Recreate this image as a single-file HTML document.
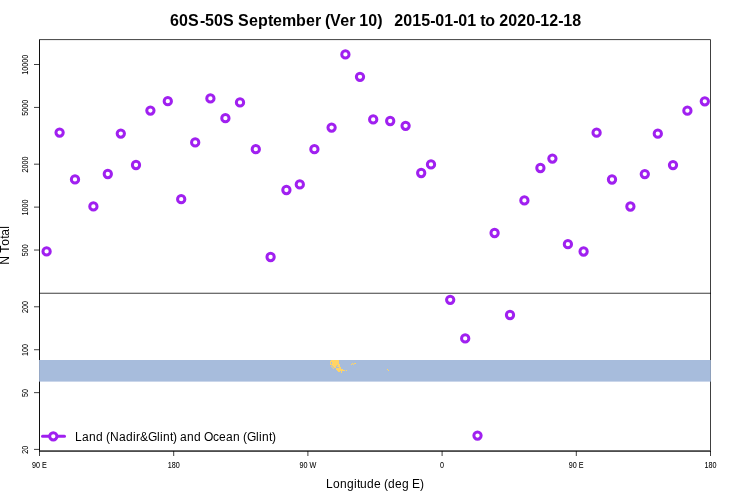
<!DOCTYPE html>
<html><head><meta charset="utf-8"><style>
html,body{margin:0;padding:0;background:#fff;}
body{width:750px;height:500px;overflow:hidden;}
svg{display:block;}
text{font-family:"Liberation Sans",Arial,sans-serif;}
</style></head><body>
<svg width="750" height="500" viewBox="0 0 750 500">
<rect width="750" height="500" fill="#fff"/>
<rect x="39" y="292" width="672" height="1" fill="#000" fill-opacity="0.196"/>
<rect x="39" y="293" width="672" height="1" fill="#000" fill-opacity="0.569"/>
<g fill="none" stroke="#000" stroke-width="0.75">
<polyline points="39.5,450.5 39.5,39.6 710.5,39.6 710.5,450.5"/>
<line x1="39.5" y1="39.6" x2="39.5" y2="451"/>
<line x1="34" y1="64.50" x2="39.5" y2="64.50"/>
<line x1="34" y1="107.43" x2="39.5" y2="107.43"/>
<line x1="34" y1="164.18" x2="39.5" y2="164.18"/>
<line x1="34" y1="207.11" x2="39.5" y2="207.11"/>
<line x1="34" y1="250.04" x2="39.5" y2="250.04"/>
<line x1="34" y1="306.79" x2="39.5" y2="306.79"/>
<line x1="34" y1="349.72" x2="39.5" y2="349.72"/>
<line x1="34" y1="392.65" x2="39.5" y2="392.65"/>
<line x1="34" y1="449.40" x2="39.5" y2="449.40"/>
<line x1="39.5" y1="451" x2="39.5" y2="456"/>
<line x1="173.7" y1="451" x2="173.7" y2="456"/>
<line x1="307.9" y1="451" x2="307.9" y2="456"/>
<line x1="442.1" y1="451" x2="442.1" y2="456"/>
<line x1="576.3" y1="451" x2="576.3" y2="456"/>
<line x1="710.5" y1="451" x2="710.5" y2="456"/>
</g>
<rect x="39" y="450" width="672" height="1" fill="#000" fill-opacity="0.584"/>
<rect x="39" y="451" width="672" height="1" fill="#000" fill-opacity="0.698"/>
<rect x="39" y="360" width="672" height="21.6" fill="#A7BCDC"/>
<rect x="39" y="360" width="1" height="21.6" fill="#000" fill-opacity="0.1"/>
<rect x="710" y="360" width="1" height="21.6" fill="#000" fill-opacity="0.15"/>
<g fill="#FFD466">
<rect x="331" y="360" width="8" height="1"/>
<rect x="330" y="361" width="9" height="1"/>
<rect x="330" y="362" width="1" height="1"/>
<rect x="332" y="362" width="7" height="1"/>
<rect x="330" y="363" width="1" height="1"/>
<rect x="332" y="363" width="7" height="1"/>
<rect x="330" y="364" width="10" height="1"/>
<rect x="332" y="365" width="5" height="1"/>
<rect x="338" y="365" width="2" height="1"/>
<rect x="331" y="366" width="1" height="1"/>
<rect x="333" y="366" width="3" height="1"/>
<rect x="337" y="366" width="3" height="1"/>
<rect x="332" y="367" width="1" height="1"/>
<rect x="334" y="367" width="2" height="1"/>
<rect x="339" y="367" width="2" height="1"/>
<rect x="333" y="368" width="1" height="1"/>
<rect x="336" y="368" width="5" height="1"/>
<rect x="336" y="369" width="7" height="1"/>
<rect x="337" y="370" width="8" height="1"/>
<rect x="346" y="370" width="1" height="1"/>
<rect x="338" y="371" width="2" height="1"/>
<rect x="341" y="371" width="1" height="1"/>
<rect x="341" y="372" width="1" height="1"/>
<rect x="351" y="364" width="1" height="1"/>
<rect x="352" y="363" width="1" height="1"/>
<rect x="353" y="364" width="1" height="1"/>
<rect x="354" y="363" width="2" height="1"/>
<rect x="387" y="369" width="1" height="1"/>
<rect x="388" y="370" width="1" height="1"/>
</g>
<g fill="none" stroke="#A020F0" stroke-width="3.0">
<circle cx="46.6" cy="251.4" r="3.65"/>
<circle cx="59.6" cy="132.6" r="3.65"/>
<circle cx="75.0" cy="179.4" r="3.65"/>
<circle cx="93.4" cy="206.4" r="3.65"/>
<circle cx="107.8" cy="174.0" r="3.65"/>
<circle cx="120.8" cy="133.6" r="3.65"/>
<circle cx="136.0" cy="165.0" r="3.65"/>
<circle cx="150.4" cy="110.6" r="3.65"/>
<circle cx="167.8" cy="101.2" r="3.65"/>
<circle cx="181.2" cy="199.2" r="3.65"/>
<circle cx="195.2" cy="142.4" r="3.65"/>
<circle cx="210.4" cy="98.4" r="3.65"/>
<circle cx="225.4" cy="118.2" r="3.65"/>
<circle cx="240.0" cy="102.4" r="3.65"/>
<circle cx="255.8" cy="149.2" r="3.65"/>
<circle cx="270.6" cy="257.0" r="3.65"/>
<circle cx="286.4" cy="190.0" r="3.65"/>
<circle cx="299.8" cy="184.4" r="3.65"/>
<circle cx="314.4" cy="149.2" r="3.65"/>
<circle cx="331.6" cy="127.6" r="3.65"/>
<circle cx="345.4" cy="54.4" r="3.65"/>
<circle cx="360.0" cy="76.8" r="3.65"/>
<circle cx="373.2" cy="119.4" r="3.65"/>
<circle cx="390.2" cy="121.0" r="3.65"/>
<circle cx="405.6" cy="125.8" r="3.65"/>
<circle cx="421.2" cy="173.0" r="3.65"/>
<circle cx="431.0" cy="164.4" r="3.65"/>
<circle cx="450.2" cy="299.8" r="3.65"/>
<circle cx="465.2" cy="338.4" r="3.65"/>
<circle cx="477.5" cy="435.6" r="3.65"/>
<circle cx="494.6" cy="233.0" r="3.65"/>
<circle cx="510.0" cy="315.0" r="3.65"/>
<circle cx="524.4" cy="200.4" r="3.65"/>
<circle cx="540.4" cy="168.0" r="3.65"/>
<circle cx="552.4" cy="158.6" r="3.65"/>
<circle cx="567.9" cy="244.2" r="3.65"/>
<circle cx="583.6" cy="251.5" r="3.65"/>
<circle cx="596.6" cy="132.7" r="3.65"/>
<circle cx="612.0" cy="179.5" r="3.65"/>
<circle cx="630.4" cy="206.5" r="3.65"/>
<circle cx="644.8" cy="174.1" r="3.65"/>
<circle cx="657.8" cy="133.7" r="3.65"/>
<circle cx="673.0" cy="165.1" r="3.65"/>
<circle cx="687.4" cy="110.7" r="3.65"/>
<circle cx="704.8" cy="101.3" r="3.65"/>
<line x1="42.5" y1="436.3" x2="64.5" y2="436.3" stroke-width="3" stroke-linecap="round"/>
<circle cx="53.3" cy="436.3" r="3.65" fill="#fff"/>
</g>
<g opacity="0.999" fill="#000">
<text x="170.1 179.1 188.1 200 205 214 223 234 238 249 258 268 273 282 296 306 315 321 325 330 340.2 349.2 355.2 359.2 368.2 377.2 382.2 386.2 390.2 394.2 403.2 412.2 421.2 430.2 435.2 444.2 453.2 458.2 467.2 476.2 480.2 485.2 495.2 499.2 508.2 517.2 526.2 535.2 540.2 549.2 558.2 563.2 572.2" y="26" font-size="16" font-weight="bold" xml:space="preserve">60S-50S September (Ver 10)   2015-01-01 to 2020-12-18</text>
<text x="326.1 333.1 340.1 347.1 354.1 357.1 360.1 367.1 374.1 381.1 384.1 388.1 395.1 402.1 409.1 412.1 420.1" y="488" font-size="12" xml:space="preserve">Longitude (deg E)</text>
<text x="-19.5 -10.5 -7.5 -0.5 6.5 9.5 16.5" y="0" font-size="12" transform="translate(8.8,245.3) rotate(-90)" xml:space="preserve">N Total</text>
<text x="75.1 82.1 89.1 96.1 103.1 106.1 110.1 119.1 126.1 133.1 136.1 140.1 148.1 157.1 160.1 163.1 170.1 173.1 177.1 180.1 187.1 194.1 201.1 204.1 213.1 219.1 226.1 233.1 240.1 243.1 247.1 256.1 259.1 262.1 269.1 272.1" y="440.7" font-size="12" xml:space="preserve">Land (Nadir&amp;Glint) and Ocean (Glint)</text>
<g stroke="#000" stroke-width="0.06">
<text x="-10 -6 -2 2 6" y="0" font-size="7.2" transform="translate(28.1,64.80) rotate(-90) scale(1,1.17)" xml:space="preserve">10000</text>
<text x="-8 -4 0 4" y="0" font-size="7.2" transform="translate(28.1,107.73) rotate(-90) scale(1,1.17)" xml:space="preserve">5000</text>
<text x="-8 -4 0 4" y="0" font-size="7.2" transform="translate(28.1,164.48) rotate(-90) scale(1,1.17)" xml:space="preserve">2000</text>
<text x="-8 -4 0 4" y="0" font-size="7.2" transform="translate(28.1,207.41) rotate(-90) scale(1,1.17)" xml:space="preserve">1000</text>
<text x="-6 -2 2" y="0" font-size="7.2" transform="translate(28.1,250.34) rotate(-90) scale(1,1.17)" xml:space="preserve">500</text>
<text x="-6 -2 2" y="0" font-size="7.2" transform="translate(28.1,307.09) rotate(-90) scale(1,1.17)" xml:space="preserve">200</text>
<text x="-6 -2 2" y="0" font-size="7.2" transform="translate(28.1,350.02) rotate(-90) scale(1,1.17)" xml:space="preserve">100</text>
<text x="-4 0" y="0" font-size="7.2" transform="translate(28.1,392.95) rotate(-90) scale(1,1.17)" xml:space="preserve">50</text>
<text x="-4 0" y="0" font-size="7.2" transform="translate(28.1,449.70) rotate(-90) scale(1,1.17)" xml:space="preserve">20</text>
<text x="-7.5 -3.5 0.5 2.5" y="0" font-size="7.2" transform="translate(39.5,468) scale(1,1.17)" xml:space="preserve">90 E</text>
<text x="-6 -2 2" y="0" font-size="7.2" transform="translate(173.7,468) scale(1,1.17)" xml:space="preserve">180</text>
<text x="-8.5 -4.5 -0.5 1.5" y="0" font-size="7.2" transform="translate(307.9,468) scale(1,1.17)" xml:space="preserve">90 W</text>
<text x="-2" y="0" font-size="7.2" transform="translate(442.1,468) scale(1,1.17)" xml:space="preserve">0</text>
<text x="-7.5 -3.5 0.5 2.5" y="0" font-size="7.2" transform="translate(576.3,468) scale(1,1.17)" xml:space="preserve">90 E</text>
<text x="-6 -2 2" y="0" font-size="7.2" transform="translate(710.5,468) scale(1,1.17)" xml:space="preserve">180</text>
</g>
</g>
</svg>
</body></html>
